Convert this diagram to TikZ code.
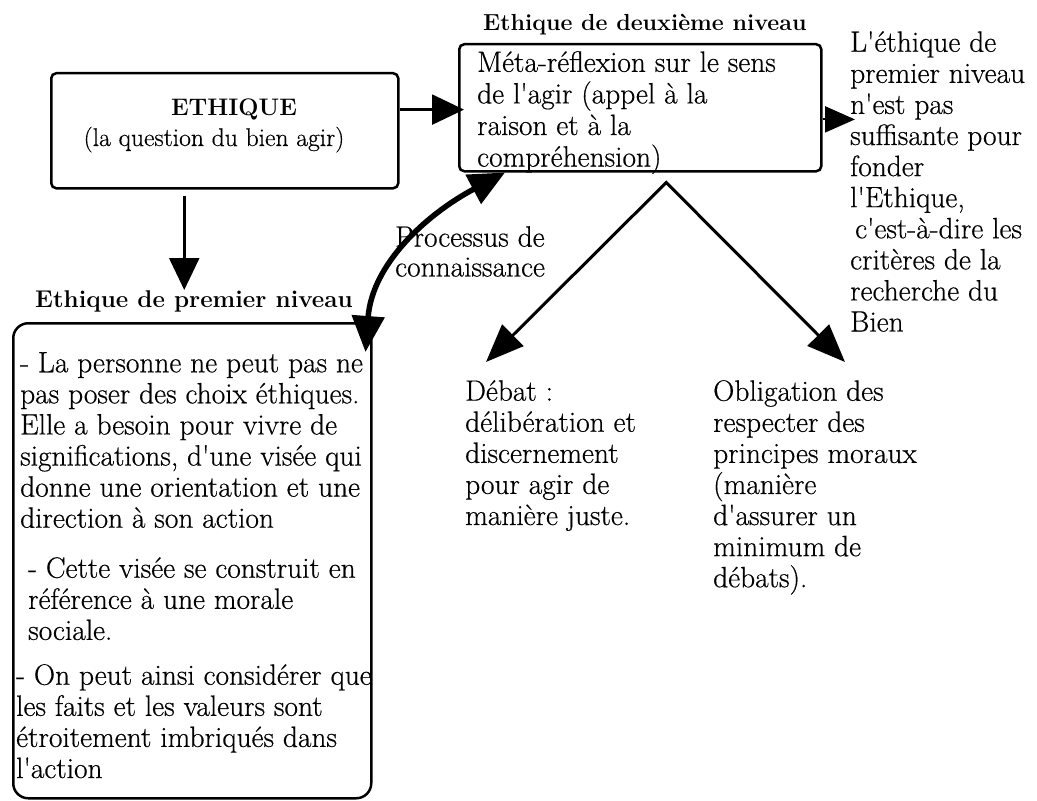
\documentclass[tikz,border=0pt]{standalone}
\usepackage{fontspec}
\usetikzlibrary{arrows.meta,calc}
% slightly heavier strokes for the running text
\newfontfamily\bodyfont{Latin Modern Roman}[FakeBold=0.5]
\begin{document}
\begin{tikzpicture}[x=1bp,y=-1bp,
  box/.style={draw, line width=2.5bp, rounded corners=5bp, inner sep=0},
  txt/.style={inner sep=0, align=left, anchor=north west,
    font=\bodyfont\fontsize{29.5}{31.2}\selectfont},
  head/.style={inner sep=0, anchor=base west,
    font=\fontsize{23.5}{28}\selectfont\bfseries},
  bigarrow/.style={line width=2.5bp, -{Triangle[length=32bp,width=30bp]}},
  diag/.style={line width=3bp, line join=miter,
    {Triangle[length=38bp,width=30bp]}-{Triangle[length=38bp,width=30bp]}},
  loop/.style={line width=5.5bp,
    {Triangle[length=36bp,width=32bp]}-{Triangle[length=36bp,width=32bp]}}
]
\useasboundingbox (0,0) rectangle (1037,801);

% top-left box
\node[box, anchor=north west, minimum width=347bp, minimum height=115bp] (eth) at (50,72) {};
\node[inner sep=0, anchor=base, font=\fontsize{24}{28}\selectfont\bfseries] (ethA) at (234,115) {ETHIQUE};
\node[inner sep=0, anchor=base, font=\bodyfont\fontsize{25.7}{30}\selectfont] (ethB) at (214,146) {(la question du bien agir)};

% second-level box
\node[head, font=\fontsize{23.3}{28}\selectfont\bfseries] (h2) at (483,31) {Ethique de deuxième niveau};
\node[box, anchor=north west, minimum width=362bp, minimum height=127bp] (meta) at (458,43) {};
\node[txt, font=\bodyfont\fontsize{29.5}{31.7}\selectfont] (metatxt) at (477,51) {Méta-réflexion sur le sens\\de l'agir (appel à la\\raison et à la\\compréhension)};

% right column
\node[txt] (crit) at (850,31) {L'éthique de\\premier niveau\\n'est pas\\suffisante pour\\fonder\\l'Ethique,\\\hspace*{5bp}c'est-à-dire les\\critères de la\\recherche du\\Bien};

% first-level box
\node[head, font=\fontsize{24.3}{28}\selectfont\bfseries] (h1) at (35,307) {Ethique de premier niveau};
\node[box, rounded corners=15bp, anchor=north west, minimum width=358bp, minimum height=475bp] (prem) at (12,322) {};
\node[txt] (p1) at (20,352) {- La personne ne peut pas ne\\pas poser des choix éthiques.\\Elle a besoin pour vivre de\\significations, d'une visée qui\\donne une orientation et une\\direction à son action};
\node[txt] (p2) at (28,557) {- Cette visée se construit en\\référence à une morale\\sociale.};
\node[txt] (p3) at (16,664) {- On peut ainsi considérer que\\les faits et les valeurs sont\\étroitement imbriqués dans\\l'action};

% bottom texts
\node[txt] (debat) at (465,380) {Débat :\\délibération et\\discernement\\pour agir de\\manière juste.};
\node[txt] (oblig) at (713,380) {Obligation des\\respecter des\\principes moraux\\(manière\\d'assurer un\\minimum de\\débats).};

% curved arrow label
\node[txt, font=\bodyfont\fontsize{29.5}{30}\selectfont] (proc) at (395,226) {Processus de\\connaissance};

% connectors
\coordinate (a1) at ($(eth.north east)!0.32!(eth.south east)$);
\draw[bigarrow] (a1) -- ([xshift=6bp]a1 -| meta.west);

\coordinate (a2) at ($(meta.north east)!0.59!(meta.south east)$);
\draw[line width=2bp, -{Triangle[length=30bp,width=26bp]}] (a2) -- ([xshift=5bp]a2 -| crit.west);

\coordinate (d0) at ([xshift=-40.5bp, yshift=-6bp]eth.south);
\draw[bigarrow] (d0) -- (d0 |- h1.north);

\coordinate (c1) at ($(prem.north east)+(-7,30)$);
\coordinate (c2) at ($(meta.south west)+(47,0)$);
\draw[loop] (c1) .. controls (372,265) and (425,215) .. (c2);

\coordinate (apex) at ($(meta.south)+(26,10)$);
\coordinate (t1) at ($(debat.north west)+(21,-18)$);
\coordinate (t2) at ($(oblig.north west)+(132,-18)$);
\draw[diag] (t1) -- (apex) -- (t2);
\end{tikzpicture}
\end{document}
